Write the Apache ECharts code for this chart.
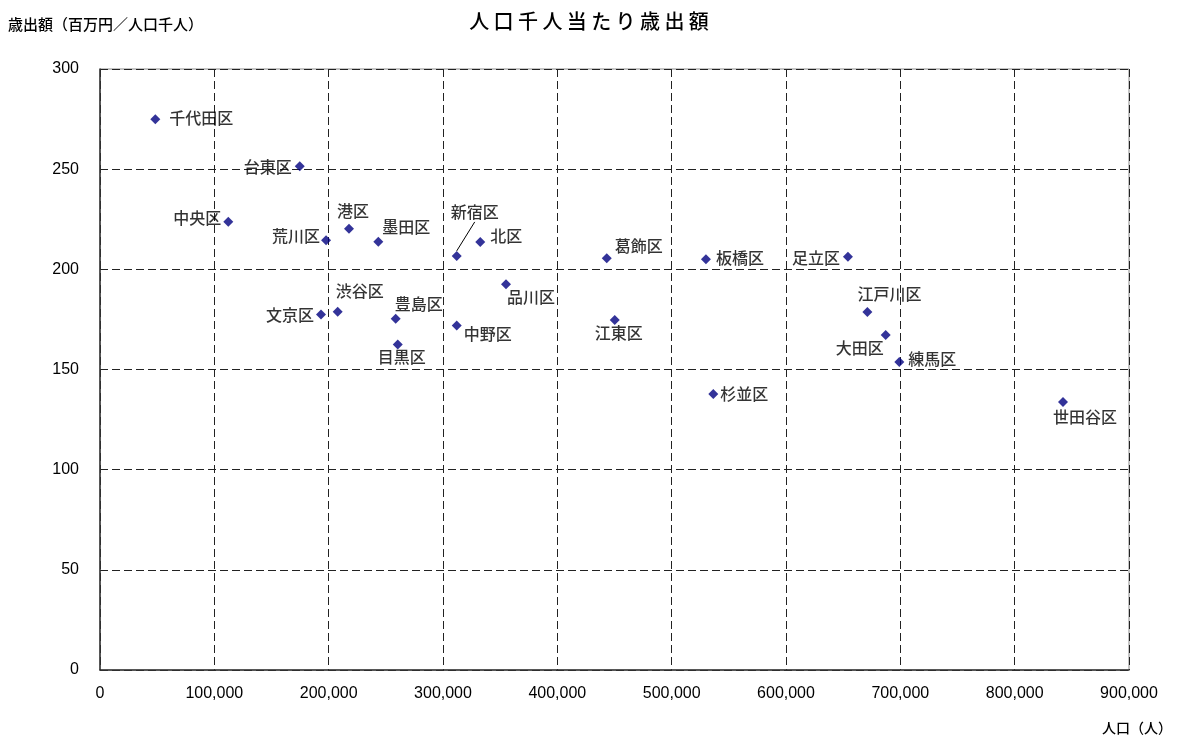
<!DOCTYPE html>
<html>
<head>
<meta charset="utf-8">
<script src="https://cdn.jsdelivr.net/npm/echarts@6/dist/echarts.min.js"></script>
<style>
  html, body { margin: 0; padding: 0; background: #fff; }
  #chart { width: 1178px; height: 740px; }
</style>
</head>
<body>
<div id="chart"></div>
<script>
// 区名・人口(人)・人口千人当たり歳出額(百万円)
const districts = ['千代田区','台東区','中央区','荒川区','港区','墨田区','新宿区','北区','品川区',
  '文京区','渋谷区','豊島区','目黒区','中野区','葛飾区','板橋区','足立区','江東区','杉並区',
  '江戸川区','大田区','練馬区','世田谷区'];
const population = [48400, 174700, 112200, 197700, 217800, 243400, 312000, 332600, 355100,
  193300, 207900, 258600, 260400, 312000, 443200, 530000, 654200, 450200, 536400,
  671200, 687200, 699100, 842300];
const spending = [274.9, 251.5, 223.7, 214.5, 220.3, 213.8, 206.7, 213.7, 192.5,
  177.5, 178.8, 175.3, 162.5, 172.0, 205.5, 205.0, 206.3, 174.7, 137.8,
  178.7, 167.2, 153.8, 133.8];

const xTicks = [0, 100000, 200000, 300000, 400000, 500000, 600000, 700000, 800000, 900000];
const yTicks = [0, 50, 100, 150, 200, 250, 300];

const chartTitle = '人口千人当たり歳出額';

// ラベル中心の位置(マーカー中心からのずれ, px)
const labelShift = [[46,0],[-32,2],[-31,-2],[-30,-3],[4,-16],[28,-13],[18,-42],[26,-4],[25,14],
  [-31,2],[22,-19],[23,-13],[4,14],[31,10],[32,-11],[34,0],[-32,3],[4,15],[31,2],
  [22,-16],[-26,15],[33,-1],[22,17]];

const FONT = "'Liberation Sans', 'Noto Sans CJK JP', sans-serif";
const chart = echarts.init(document.getElementById('chart'), null, { renderer: 'canvas' });

const points = districts.map((name, i) => {
  const item = { name: name, value: [population[i], spending[i]] };
  if (name === '新宿区') item.labelLine = { show: true, lineStyle: { color: '#000', width: 1 } };
  return item;
});

// タイトルは字間を広げて表示
const spacedTitle = chartTitle.split('').map(c => '{s|' + c + '}').join('');

chart.setOption({
  animation: false,
  backgroundColor: '#fff',
  title: {
    text: spacedTitle,
    left: 'center',
    top: 8,
    textStyle: {
      fontFamily: FONT, fontSize: 20, fontWeight: 500, color: '#000',
      rich: { s: { fontFamily: FONT, fontSize: 20, fontWeight: 500, color: '#000', padding: [0, 2.2, 0, 2.2] } }
    }
  },
  graphic: [
    { type: 'text', left: 8, top: 18,
      style: { text: '歳出額（百万円／人口千人）', font: '500 15px ' + FONT, fill: '#000' } },
    { type: 'text', right: 6, top: 722,
      style: { text: '人口（人）', font: '500 14px ' + FONT, fill: '#000' } }
  ],
  grid: {
    left: 100, top: 69, right: 49, bottom: 70,
    show: true, borderColor: '#888', borderWidth: 1
  },
  xAxis: {
    type: 'value',
    min: xTicks[0], max: xTicks[xTicks.length - 1], interval: xTicks[1] - xTicks[0],
    axisLine: { show: true, lineStyle: { color: '#333', width: 1.5 } },
    axisTick: { show: false },
    axisLabel: {
      margin: 16, color: '#000', fontFamily: FONT, fontSize: 16,
      formatter: v => v.toLocaleString('en-US')
    },
    splitLine: { show: true, lineStyle: { type: [8, 4], color: '#222', width: 1 } }
  },
  yAxis: {
    type: 'value',
    min: yTicks[0], max: yTicks[yTicks.length - 1], interval: yTicks[1] - yTicks[0],
    axisLine: { show: true, lineStyle: { color: '#333', width: 1.5 } },
    axisTick: { show: false },
    axisLabel: { margin: 21, color: '#000', fontFamily: FONT, fontSize: 16 },
    splitLine: { show: true, lineStyle: { type: [8, 4], color: '#222', width: 1 } }
  },
  series: [{
    type: 'scatter',
    symbol: 'diamond',
    symbolSize: 10,
    itemStyle: { color: '#000080' },
    data: points,
    label: {
      show: true,
      formatter: '{b}',
      color: '#000',
      fontFamily: FONT,
      fontSize: 16,
      fontWeight: 500
    },
    labelLine: { show: false },
    labelLayout: function (params) {
      const s = labelShift[params.dataIndex];
      const cx = params.rect.x + params.rect.width / 2;
      const cy = params.rect.y + params.rect.height / 2;
      return { x: cx + s[0], y: cy + s[1], align: 'center', verticalAlign: 'middle', hideOverlap: false };
    }
  }]
});
</script>
</body>
</html>
